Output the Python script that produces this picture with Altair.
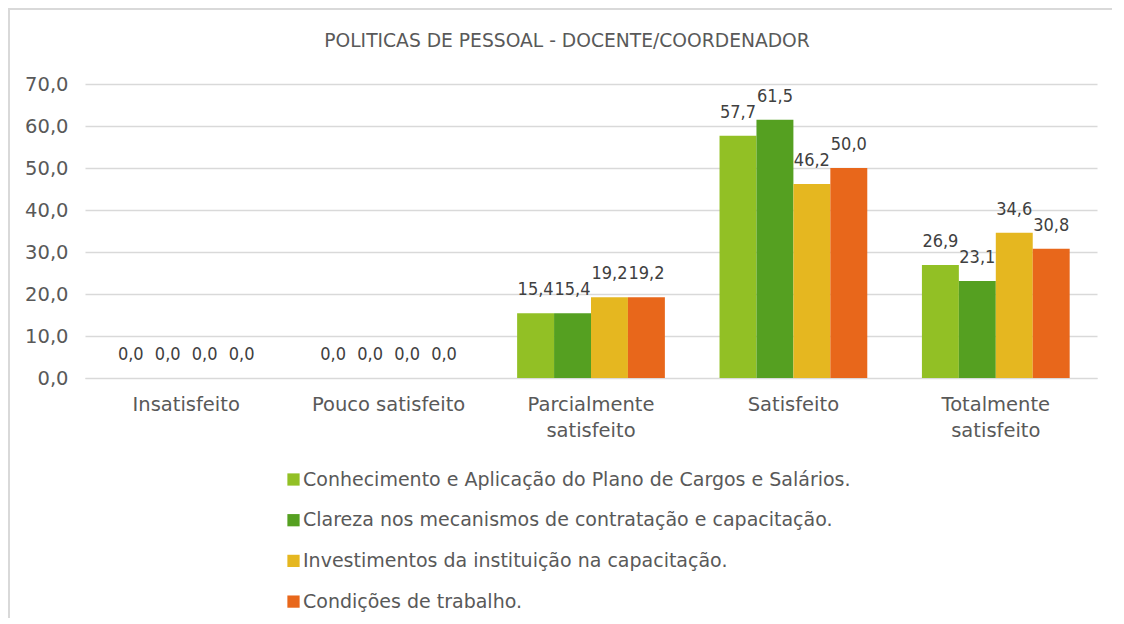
import altair as alt
import pandas as pd

categories = ["Insatisfeito", "Pouco satisfeito", "Parcialmente satisfeito", "Satisfeito", "Totalmente satisfeito"]
series = [
    "Conhecimento e Aplicação do Plano de Cargos e Salários.",
    "Clareza nos mecanismos de contratação e capacitação.",
    "Investimentos da instituição na capacitação.",
    "Condições de trabalho.",
]
colors = ["#92C025", "#55A021", "#E5B720", "#E8671B"]
values = {
    series[0]: [0.0, 0.0, 15.4, 57.7, 26.9],
    series[1]: [0.0, 0.0, 15.4, 61.5, 23.1],
    series[2]: [0.0, 0.0, 19.2, 46.2, 34.6],
    series[3]: [0.0, 0.0, 19.2, 50.0, 30.8],
}
y_ticks = [0, 10, 20, 30, 40, 50, 60, 70]
title_text = "POLITICAS DE PESSOAL - DOCENTE/COORDENADOR"

rows = []
for s in series:
    for c, v in zip(categories, values[s]):
        rows.append({"cat": c, "serie": s, "val": v})
df = pd.DataFrame(rows)

FONT = "DejaVu Sans"
FONT_C = "DejaVu Sans Condensed"
W, H = 1012, 294

x_enc = alt.X(
    "cat:N", sort=categories,
    scale=alt.Scale(paddingInner=0.27, paddingOuter=0.135),
    axis=alt.Axis(
        title=None, labelAngle=0, ticks=False, domain=True, domainColor="#d9d9d9",
        labelFont=FONT, labelFontSize=19.5, labelColor="#595959", labelPadding=17,
        labelLineHeight=26,
        labelExpr="datum.label == 'Pouco satisfeito' ? datum.label : split(datum.label, ' ')",
    ),
)
xoff = alt.XOffset("serie:N", sort=series, scale=alt.Scale(paddingInner=0, paddingOuter=0))
y_enc = alt.Y(
    "val:Q", scale=alt.Scale(domain=[0, 70], nice=False),
    axis=alt.Axis(
        title=None, values=y_ticks, ticks=False, domain=False,
        grid=True, gridColor="#d9d9d9", gridWidth=1.5,
        labelFont=FONT, labelFontSize=19.5, labelColor="#595959", labelPadding=17,
        labelExpr="replace(format(datum.value, '.1f'), '.', ',')",
    ),
)

bars = alt.Chart(df).mark_bar().encode(
    x=x_enc, xOffset=xoff, y=y_enc,
    color=alt.Color(
        "serie:N", sort=series,
        scale=alt.Scale(domain=series, range=colors),
        legend=alt.Legend(
            title=None, orient="none", legendX=199, legendY=386, direction="vertical",
            symbolType="square", symbolSize=150, symbolStrokeWidth=0,
            labelFont=FONT, labelFontSize=19, labelColor="#595959",
            labelOffset=0, rowPadding=20.7, labelLimit=800,
        ),
    ),
)

labels = alt.Chart(df).mark_text(
    font=FONT_C, fontSize=18, color="#404040", baseline="alphabetic", dy=-18
).encode(
    x=alt.X("cat:N", sort=categories),
    xOffset=alt.XOffset("serie:N", sort=series),
    y=alt.Y("val:Q"),
    text=alt.Text("lbl:N"),
).transform_calculate(lbl="replace(format(datum.val, '.1f'), '.', ',')")

title_mark = alt.Chart(pd.DataFrame({"t": [title_text]})).mark_text(
    font=FONT, fontSize=18.7, color="#595959", baseline="middle", align="center"
).encode(x=alt.value(482), y=alt.value(-43), text="t:N")

frame_left = alt.Chart(df).mark_rule(color="#d9d9d9", strokeWidth=2).encode(
    x=alt.value(-76), y=alt.value(-76), y2=alt.value(H + 300)
)
frame_top = alt.Chart(df).mark_rule(color="#d9d9d9", strokeWidth=2).encode(
    x=alt.value(-76), x2=alt.value(W + 15), y=alt.value(-75)
)

chart = alt.layer(bars, labels, title_mark, frame_left, frame_top).properties(
    width=W, height=H,
    autosize=alt.AutoSizeParams(type="none"),
    padding={"left": 77, "top": 76, "right": 15, "bottom": 240},
).configure_view(stroke=None)

chart.save("out.html", embed_options={"renderer": "svg", "actions": False})
